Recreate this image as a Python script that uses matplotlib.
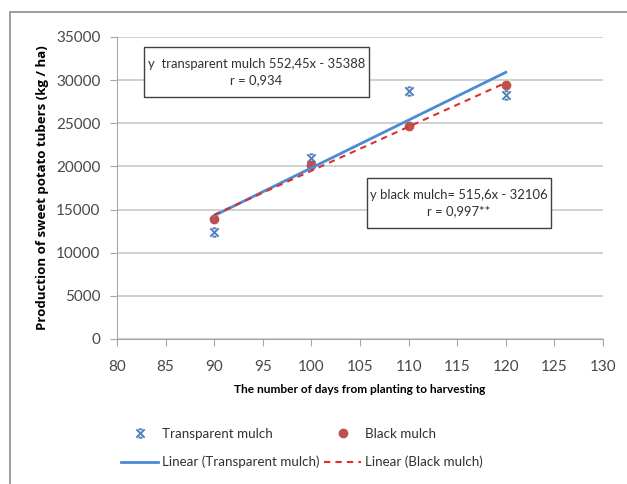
import numpy as np
import matplotlib.pyplot as plt
from matplotlib.patches import Rectangle
from matplotlib.path import Path

# days from planting to harvesting
days = [90, 100, 110, 120]
# production (kg / ha)
transparent = [12400, 21000, 28700, 28300]
black = [13900, 20200, 24700, 29400]

eq_transparent = "y  transparent mulch 552,45x - 35388\nr = 0,934"
eq_black = "y black mulch= 515,6x - 32106\nr = 0,997**"

plt.rcParams['font.family'] = ['Lato', 'DejaVu Sans']

fig = plt.figure(figsize=(6.27, 4.84), dpi=100)
W, H = 627, 484
ax = fig.add_axes([117/W, 1 - 339/H, (603-117)/W, (339-37)/H])

# outer chart frame (left/top visible)
fig.patches.append(Rectangle((10/W, -0.5), 2, 1 - 12/H + 0.5, transform=fig.transFigure,
                             fill=False, edgecolor='#8c8c8c', linewidth=1.2))

# x marker with short caps (Excel-like "star")
star = Path([(-1, -1), (1, 1), (-1, 1), (1, -1), (-0.45, 1), (0.45, 1), (-0.45, -1), (0.45, -1)],
            [Path.MOVETO, Path.LINETO] * 4)

blue = '#4a8ad6'
red = '#d9312b'

ax.plot(days, transparent, linestyle='none', marker=star, markersize=6,
        markeredgewidth=1.4, color='#4f81bd', label='Transparent mulch')
ax.plot(days, black, linestyle='none', marker='o', markersize=6,
        color='#c0504d', label='Black mulch')

x = np.array([days[0], days[-1]])
pt = np.polyfit(days, transparent, 1)
pb = np.polyfit(days, black, 1)
ax.plot(x, np.polyval(pt, x), color=blue, linewidth=2, label='Linear (Transparent mulch)')
ax.plot(x, np.polyval(pb, x), color=red, linewidth=1.5, linestyle=(0, (3, 2.5)),
        label='Linear (Black mulch)')

ax.set_xlim(80, 130)
ax.set_ylim(0, 35000)
ax.set_xticks(range(80, 131, 5))
ax.set_yticks(range(0, 35001, 5000))
ax.grid(axis='y', color='#c8c8c8', linewidth=1.2)
ax.set_axisbelow(True)
for s in ['top', 'right']:
    ax.spines[s].set_visible(False)
for s in ['left', 'bottom']:
    ax.spines[s].set_color('#a6a6a6')
ax.tick_params(colors='#a6a6a6', labelcolor='#484848', labelsize=11, length=5, direction='out')
ax.tick_params(axis='x', pad=10)
ax.tick_params(axis='y', pad=7)

ax.set_xlabel('The number of days from planting to harvesting', fontsize=8.6,
              fontweight='bold', labelpad=7)
ax.set_ylabel('Production of sweet potato tubers (kg / ha)', fontsize=9.5,
              fontweight='bold', labelpad=5, family=['Open Sans', 'DejaVu Sans'])

# equation boxes
for (x0, x1, y0, y1), txt in [((82.78, 105.93, 28046, 33841), eq_transparent),
                              ((105.72, 124.65, 12864, 18659), eq_black)]:
    ax.add_patch(Rectangle((x0, y0), x1 - x0, y1 - y0, facecolor='white',
                           edgecolor='#404040', linewidth=1, zorder=5))
    ax.text((x0 + x1) / 2, (y0 + y1) / 2, txt, ha='center', va='center', fontsize=9.4,
            color='#303030', linespacing=1.5, zorder=6)

h, l = ax.get_legend_handles_labels()
order = [0, 2, 1, 3]
leg = fig.legend([h[i] for i in order], [l[i] for i in order], ncol=2, frameon=False,
                 loc='center', bbox_to_anchor=(302/W, 1 - 448/H), fontsize=9.6,
                 columnspacing=0.3, handlelength=2.8, handletextpad=0.3, labelspacing=1.2)
for t in leg.get_texts():
    t.set_color('#303030')

fig.savefig('out.png', dpi=100)
